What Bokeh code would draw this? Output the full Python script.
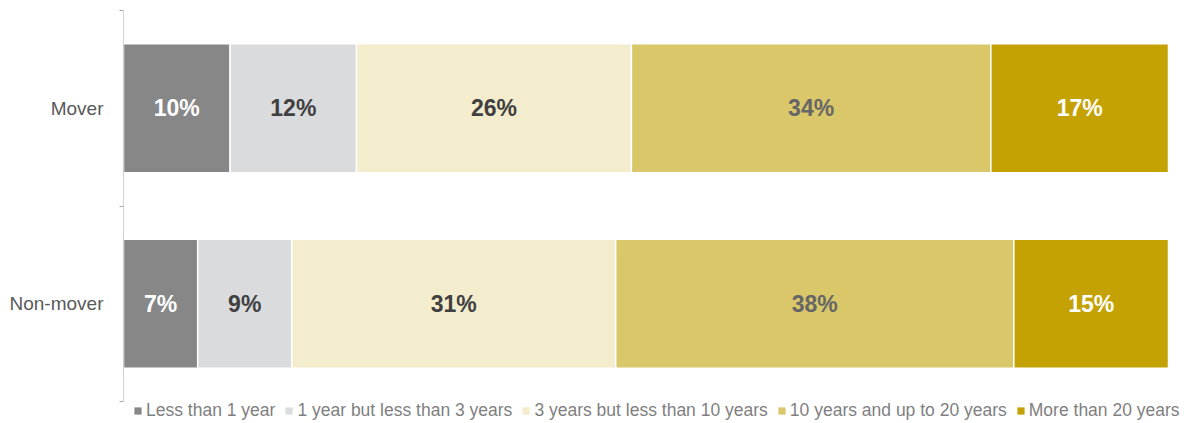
from bokeh.plotting import figure
from bokeh.models import ColumnDataSource, Range1d, FixedTicker, Legend, LegendItem
from bokeh.core.properties import value
from bokeh.embed import file_html
from bokeh.resources import INLINE

groups = ["Non-mover", "Mover"]
series = ["Less than 1 year", "1 year but less than 3 years",
          "3 years but less than 10 years", "10 years and up to 20 years",
          "More than 20 years"]
mover = [10.2, 12.1, 26.3, 34.4, 17.0]
non_mover = [7.1, 9.0, 31.0, 38.1, 14.8]
colors = ["#878787", "#DADBDD", "#F3ECCD", "#D9C76A", "#C4A203"]
label_colors = ["#FFFFFF", "#404040", "#404040", "#666666", "#FFFFFF"]

FONT = "Liberation Sans"
ypos = [0.5, 1.5]
values_by_group = [non_mover, mover]

W, H = 1182, 421
LEFT, TOP = 123, 10
BAR_RIGHT, AXIS_BOTTOM = 1168, 401
# frame extends to the right/bottom edges so the legend has room under the axis
x_end = 100.0 * (W - LEFT) / (BAR_RIGHT - LEFT)
y_start = -2.0 * (H - AXIS_BOTTOM) / (AXIS_BOTTOM - TOP)

p = figure(width=W, height=H, output_backend="svg", toolbar_location=None,
           x_range=Range1d(0, x_end), y_range=Range1d(y_start, 2),
           min_border_left=LEFT, min_border_right=0, min_border_top=TOP,
           min_border_bottom=0)
p.outline_line_color = None
p.xaxis.visible = False
p.xgrid.visible = False
p.ygrid.visible = False

lx, ly, lt, lc = [], [], [], []
legend_items = []
cum = [0.0, 0.0]
for i, name in enumerate(series):
    vals = [values_by_group[0][i], values_by_group[1][i]]
    left = cum[:]
    right = [cum[0] + vals[0], cum[1] + vals[1]]
    src = ColumnDataSource(dict(y=ypos, left=left, right=right))
    p.hbar(y="y", left="left", right="right", height=0.66, source=src,
           fill_color=colors[i], line_color="white", line_width=1.5)
    # legend swatch renderer (no visible mark: NaN position, no outline)
    sw = p.hbar(y=[float("nan")], left=[0], right=[0], height=0.5,
                fill_color=colors[i], line_color=None)
    legend_items.append(LegendItem(label=name, renderers=[sw]))
    for g in range(2):
        lx.append((left[g] + right[g]) / 2)
        ly.append(ypos[g])
        lt.append(f"{round(vals[g])}%")
        lc.append(label_colors[i])
    cum = right

tsrc = ColumnDataSource(dict(x=lx, y=ly, text=lt, color=lc))
p.text(x="x", y="y", text="text", source=tsrc, text_color="color",
       text_align="center", text_baseline="middle",
       text_font=value(FONT), text_font_style="bold", text_font_size="23px")

# category axis: line from 0 to 2 only, ticks between categories
p.segment(x0=[0], y0=[0], x1=[0], y1=[2], line_color="#A6A6A6", line_width=1)
yax = p.yaxis[0]
yax.ticker = FixedTicker(ticks=ypos, minor_ticks=[0, 1, 2])
yax.major_label_overrides = {0.5: "Non-mover", 1.5: "Mover"}
yax.axis_line_color = None
yax.major_tick_line_color = None
yax.major_tick_out = 0
yax.major_tick_in = 0
yax.minor_tick_out = 4
yax.minor_tick_in = 0
yax.minor_tick_line_color = "#A6A6A6"
yax.major_label_text_font = FONT
yax.major_label_text_font_size = "19px"
yax.major_label_text_color = "#595959"
yax.major_label_standoff = 16

legend = Legend(items=legend_items, orientation="horizontal",
                location=(10, 0), glyph_width=9, glyph_height=9,
                label_standoff=4, spacing=9, padding=0, margin=0,
                border_line_color=None, background_fill_alpha=0,
                label_text_font=FONT, label_text_font_size="17.5px",
                label_text_color="#7F7F7F", label_height=17)
p.add_layout(legend, "center")

open("out.html", "w").write(file_html(p, INLINE))
